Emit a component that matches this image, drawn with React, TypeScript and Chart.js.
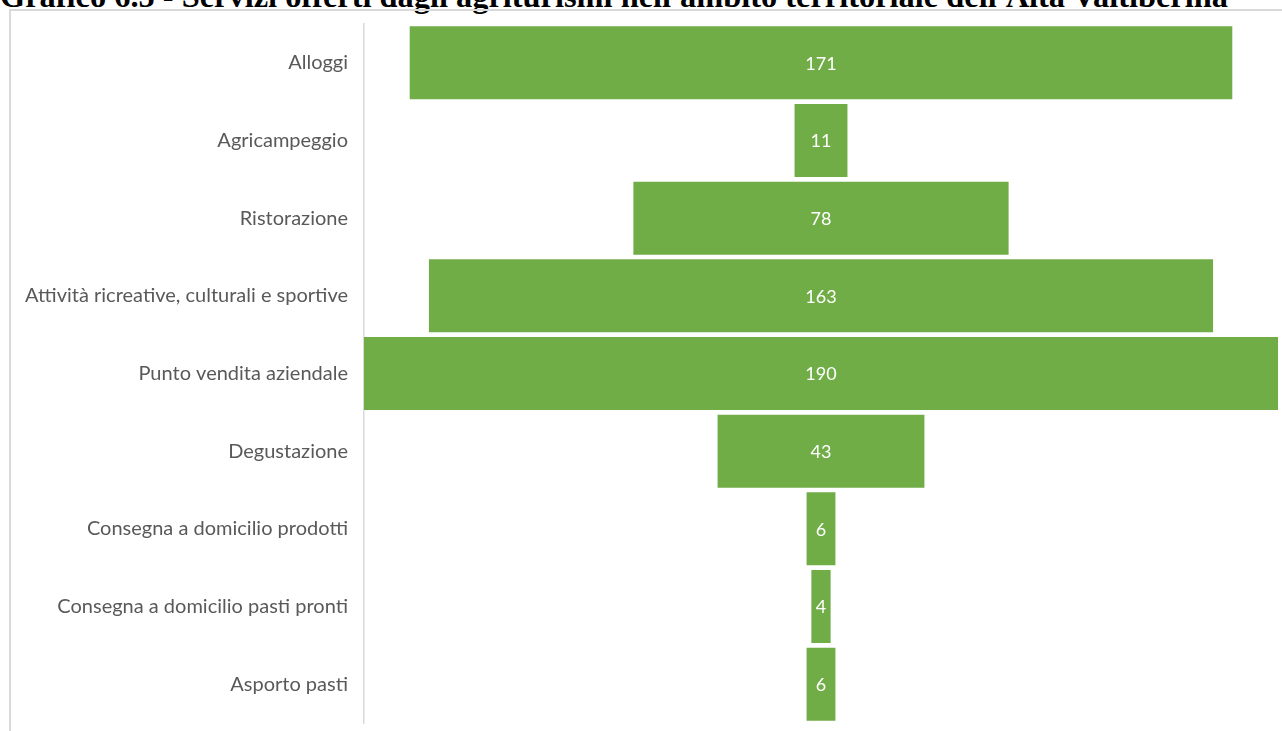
import React, { useEffect, useRef } from "react";
import { Chart, registerables } from "chart.js";

Chart.register(...registerables);

const TITLE = "Grafico 6.5 - Servizi offerti dagli agriturismi nell'ambito territoriale dell'Alta Valtiberina";

const categories: string[] = [
  "Alloggi",
  "Agricampeggio",
  "Ristorazione",
  "Attività ricreative, culturali e sportive",
  "Punto vendita aziendale",
  "Degustazione",
  "Consegna a domicilio prodotti",
  "Consegna a domicilio pasti pronti",
  "Asporto pasti",
];

const values: number[] = [171, 11, 78, 163, 190, 43, 6, 4, 6];

const BAR_COLOR = "#70ad47";

export default function App() {
  const canvasRef = useRef<HTMLCanvasElement | null>(null);

  useEffect(() => {
    const canvas = canvasRef.current;
    if (!canvas) return;
    const maxVal = Math.max(...values);
    const center = maxVal / 2;
    const floating = values.map((v) => [center - v / 2, center + v / 2]);

    const valueLabels = {
      id: "valueLabels",
      afterDatasetsDraw(chart: any) {
        const ctx = chart.ctx;
        const meta = chart.getDatasetMeta(0);
        ctx.save();
        ctx.fillStyle = "#ffffff";
        ctx.font = "18px Lato";
        ctx.textAlign = "center";
        ctx.textBaseline = "middle";
        meta.data.forEach((el: any, i: number) => {
          const cx = (el.x + el.base) / 2;
          ctx.fillText(String(values[i]), cx, el.y + 1);
        });
        ctx.restore();
      },
    };

    const chart = new Chart(canvas, {
      type: "bar",
      data: {
        labels: categories,
        datasets: [
          {
            data: floating as any,
            backgroundColor: BAR_COLOR,
            borderWidth: 0,
            barPercentage: 0.94,
            categoryPercentage: 1.0,
          },
        ],
      },
      options: {
        indexAxis: "y",
        animation: false,
        responsive: false,
        maintainAspectRatio: false,
        layout: { padding: { left: 10, top: 24, bottom: 8, right: 4 } },
        plugins: {
          legend: { display: false },
          tooltip: { enabled: false },
          title: { display: false },
        },
        scales: {
          x: { display: false, min: 0, max: maxVal },
          y: {
            grid: { display: false, drawTicks: false },
            border: { display: true, color: "#d9d9d9", width: 1.5 },
            ticks: {
              color: "#595959",
              font: { family: "Lato", size: 20 },
              padding: 16,
            },
            afterFit: (scale: any) => {
              scale.width = 354;
              scale.paddingTop = 0;
              scale.paddingBottom = 0;
            },
          },
        },
      },
      plugins: [valueLabels],
    });
    return () => chart.destroy();
  }, []);

  return (
    <div
      style={{
        position: "fixed",
        left: 0,
        top: 0,
        width: 1282,
        height: 731,
        overflow: "hidden",
        background: "#ffffff",
      }}
    >
      <div
        style={{
          position: "absolute",
          left: 0,
          top: -20,
          whiteSpace: "nowrap",
          fontFamily: "'Liberation Serif', 'Times New Roman', serif",
          fontWeight: "bold",
          fontSize: 32.4,
          lineHeight: "32px",
          color: "#000000",
        }}
      >
        {TITLE}
      </div>
      <div
        style={{
          position: "absolute",
          left: 9,
          top: 9,
          width: 2000,
          height: 2000,
          borderLeft: "2px solid #d9d9d9",
          borderTop: "2px solid #d9d9d9",
        }}
      />
      <canvas
        ref={canvasRef}
        width={1282}
        height={731}
        style={{ position: "absolute", left: 0, top: 0, width: 1282, height: 731 }}
      />
    </div>
  );
}
